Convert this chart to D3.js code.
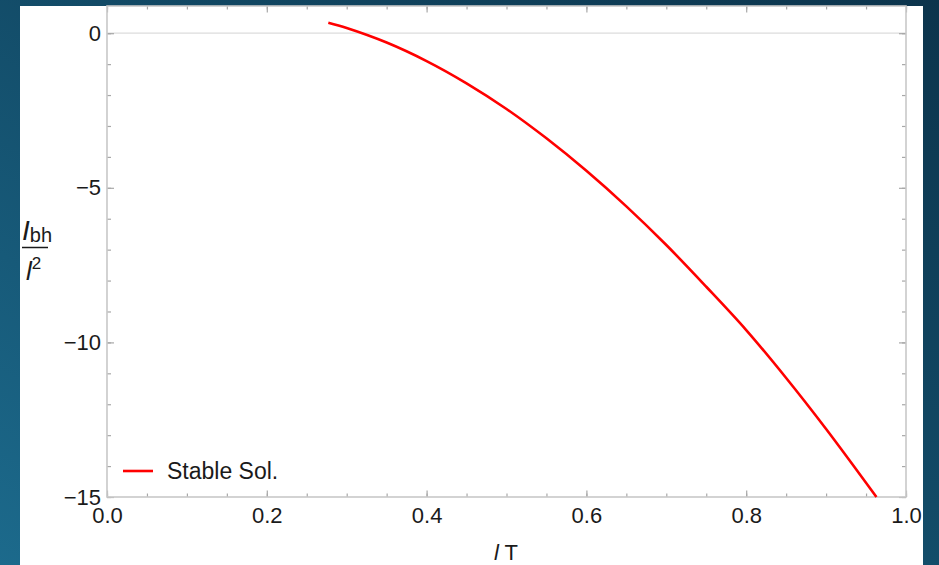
<!DOCTYPE html>
<html>
<head>
<meta charset="utf-8">
<script src="https://cdn.jsdelivr.net/npm/d3@7"></script>
<style>
    body { margin: 0; padding: 0; overflow: hidden; }
    svg text { font-family: "Liberation Sans", Arial, sans-serif; fill: #1a1a1a; }
</style>
</head>
<body>
<div id="chart"></div>
<script>
// values
const lT = [0.277, 0.30, 0.35, 0.40, 0.45, 0.50, 0.55, 0.60, 0.65, 0.70, 0.75, 0.80, 0.85, 0.90, 0.963];
const Ibh = [0.34, 0.17, -0.30, -0.90, -1.62, -2.45, -3.40, -4.45, -5.60, -6.85, -8.20, -9.60, -11.15, -12.80, -15.0];
const X_TICKS = [0.0, 0.2, 0.4, 0.6, 0.8, 1.0];
const Y_TICKS = [0, -5, -10, -15];
const LEGEND = ["Stable Sol."];

const CFG = {
    W: 939, H: 565,
    PANEL_X: 20, PANEL_Y: 6, PANEL_W: 903,
    LEFT: 107, RIGHT: 906, TOP: 6, BOTTOM: 497,
    TICK_FONT: 22
};

var svg = d3.select("#chart").append("svg")
            .attr("width", CFG.W)
            .attr("height", CFG.H);

var defs = svg.append("defs");
var grad = defs.append("linearGradient")
               .attr("id", "bg")
               .attr("x1", "0%").attr("y1", "100%")
               .attr("x2", "100%").attr("y2", "0%");
grad.append("stop").attr("offset", "0%").attr("stop-color", "#1c6a8c");
grad.append("stop").attr("offset", "55%").attr("stop-color", "#124a66");
grad.append("stop").attr("offset", "100%").attr("stop-color", "#0c344c");

svg.append("rect")
   .attr("width", CFG.W).attr("height", CFG.H)
   .attr("fill", "url(#bg)");
svg.append("rect")
   .attr("x", CFG.PANEL_X).attr("y", CFG.PANEL_Y)
   .attr("width", CFG.PANEL_W).attr("height", CFG.H - CFG.PANEL_Y)
   .attr("fill", "#fff");

var x = d3.scaleLinear().domain([0, 1]).range([CFG.LEFT, CFG.RIGHT]);
var y = d3.scaleLinear().domain([-15, 0.88]).range([CFG.BOTTOM, CFG.TOP]);

var xMinor = d3.range(0, 1.0001, 0.05);
var yMinor = d3.range(-15, 0.5, 1);

// grid line at zero
svg.append("line")
   .attr("x1", CFG.LEFT).attr("x2", CFG.RIGHT)
   .attr("y1", y(0)).attr("y2", y(0))
   .attr("stroke", "#dcdcdc").attr("stroke-width", 1.2);

// frame + ticks, pointing inward
var styleAxis = function(g){
    g.select(".domain").remove();
    g.selectAll(".tick line").attr("stroke", "#a8a8a8").attr("stroke-width", 1.2);
    g.selectAll("text").attr("font-size", CFG.TICK_FONT).attr("fill", "#1a1a1a")
     .attr("font-family", "'Liberation Sans', Arial, sans-serif");
};

svg.append("g").attr("transform", "translate(0," + CFG.BOTTOM + ")")
   .call(d3.axisBottom(x).tickValues(xMinor).tickSize(-3.5).tickFormat(""))
   .call(styleAxis);
svg.append("g").attr("transform", "translate(0," + CFG.BOTTOM + ")")
   .call(d3.axisBottom(x).tickValues(X_TICKS).tickSize(-6.5).tickPadding(10).tickFormat(d3.format(".1f")))
   .call(styleAxis);
svg.append("g").attr("transform", "translate(0," + CFG.TOP + ")")
   .call(d3.axisTop(x).tickValues(xMinor).tickSize(-3.5).tickFormat(""))
   .call(styleAxis);
svg.append("g").attr("transform", "translate(0," + CFG.TOP + ")")
   .call(d3.axisTop(x).tickValues(X_TICKS).tickSize(-6.5).tickFormat(""))
   .call(styleAxis);

svg.append("g").attr("transform", "translate(" + CFG.LEFT + ",0)")
   .call(d3.axisLeft(y).tickValues(yMinor).tickSize(-4).tickFormat(""))
   .call(styleAxis);
svg.append("g").attr("transform", "translate(" + CFG.LEFT + ",0)")
   .call(d3.axisLeft(y).tickValues(Y_TICKS).tickSize(-7).tickPadding(6).tickFormat(d3.format("d")))
   .call(styleAxis);
svg.append("g").attr("transform", "translate(" + CFG.RIGHT + ",0)")
   .call(d3.axisRight(y).tickValues(yMinor).tickSize(-4).tickFormat(""))
   .call(styleAxis);
svg.append("g").attr("transform", "translate(" + CFG.RIGHT + ",0)")
   .call(d3.axisRight(y).tickValues(Y_TICKS).tickSize(-7).tickFormat(""))
   .call(styleAxis);

svg.append("rect")
   .attr("x", CFG.LEFT).attr("y", CFG.TOP)
   .attr("width", CFG.RIGHT - CFG.LEFT).attr("height", CFG.BOTTOM - CFG.TOP)
   .attr("fill", "none").attr("stroke", "#c8c8c8").attr("stroke-width", 1.6);

// the curve
var pts = lT.map((d, i) => [d, Ibh[i]]);
svg.append("path")
   .datum(pts)
   .attr("fill", "none")
   .attr("stroke", "#ff0000")
   .attr("stroke-width", 2.6)
   .attr("d", d3.line().x((d) => x(d[0])).y((d) => y(d[1])).curve(d3.curveCatmullRom.alpha(0.5)));

// legend
var lg = svg.append("g").attr("transform", "translate(123,471)");
lg.append("line").attr("x1", 0).attr("x2", 30).attr("y1", 0).attr("y2", 0)
  .attr("stroke", "#ff0000").attr("stroke-width", 2.6);
lg.append("text").attr("x", 44).attr("y", 0).attr("dy", "0.35em")
  .attr("font-size", 23).text(LEGEND[0]);

// axis labels
var xl = svg.append("text")
            .attr("x", 506).attr("y", 560)
            .attr("text-anchor", "middle")
            .attr("font-size", 22);
xl.append("tspan").attr("font-style", "italic").text("l");
xl.append("tspan").text(" T");

var yl = svg.append("g");
var num = yl.append("text").attr("x", 22).attr("y", 240).attr("font-size", 28);
num.append("tspan").attr("font-style", "italic").text("I");
num.append("tspan").attr("font-size", 20).attr("dy", 2).text("bh");
yl.append("line").attr("x1", 22).attr("x2", 48).attr("y1", 247.5).attr("y2", 247.5)
  .attr("stroke", "#1a1a1a").attr("stroke-width", 1.5);
var den = yl.append("text").attr("x", 26).attr("y", 280).attr("font-size", 26);
den.append("tspan").attr("font-style", "italic").text("l");
den.append("tspan").attr("font-size", 17).attr("dy", -11).text("2");
</script>
</body>
</html>
